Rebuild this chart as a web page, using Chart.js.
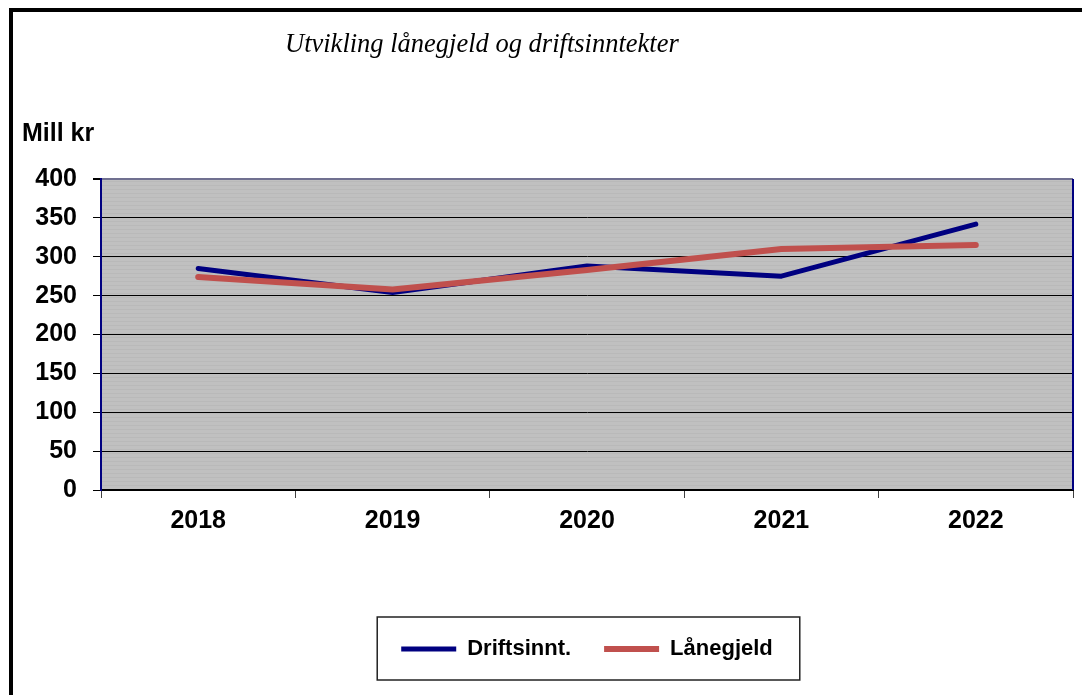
<!DOCTYPE html>
<html>
<head>
<meta charset="utf-8">
<script src="https://cdn.jsdelivr.net/npm/chart.js@4"></script>
<style>
  html, body { margin: 0; padding: 0; background: #fff; overflow: hidden; }
  #wrap { position: relative; width: 1082px; height: 695px; }
  #frame { position: absolute; left: 9px; top: 8px; width: 1200px; height: 800px; border: 4px solid #000; }
  #chart { position: absolute; left: 0; top: 0; }
  #title { position: absolute; left: 285px; top: 28px; font: italic 26.5px "Liberation Serif", "Times New Roman", serif; color: #000; white-space: nowrap; }
  #unit { position: absolute; left: 22px; top: 118px; font: bold 25px "Liberation Sans", Arial, sans-serif; color: #000; white-space: nowrap; }
</style>
</head>
<body>
<div id="wrap">
  <div id="frame"></div>
  <canvas id="chart" width="1082" height="695"></canvas>
  <div id="title">Utvikling lånegjeld og driftsinntekter</div>
  <div id="unit">Mill kr</div>
</div>
<script>
const years = ['2018', '2019', '2020', '2021', '2022'];
const driftsinnt = [285, 254, 288, 275, 342];
const laanegjeld = [274, 258, 283, 310, 315];
const yTicks = [0, 50, 100, 150, 200, 250, 300, 350, 400];

const FONT = '"Liberation Sans", Arial, sans-serif';

// grå bakgrunn med svake striper + kantlinjer rundt plottet
const plotBackground = {
    id: 'plotBackground',
    beforeDraw(chart) {
        const { ctx, chartArea: a } = chart;
        ctx.save();
        ctx.fillStyle = '#c0c0c0';
        ctx.fillRect(a.left, a.top, a.right - a.left, a.bottom - a.top);
        ctx.fillStyle = '#b9b9b9';
        for (let y = a.top + 2; y < a.bottom; y += 4) {
            ctx.fillRect(a.left, y, a.right - a.left, 1);
        }
        ctx.restore();
    },
    afterDraw(chart) {
        const { ctx, chartArea: a } = chart;
        ctx.save();
        ctx.strokeStyle = '#000080';
        ctx.lineWidth = 2;
        ctx.beginPath();
        ctx.moveTo(a.right, a.top);
        ctx.lineTo(a.right, a.bottom);
        ctx.stroke();
        // ramme rundt legenden
        const boxes = chart.legend.legendHitBoxes;
        if (boxes && boxes.length) {
            const left = Math.min(...boxes.map(b => b.left));
            const right = Math.max(...boxes.map(b => b.left + b.width));
            const cy = boxes[0].top + boxes[0].height / 2;
            ctx.strokeStyle = '#222';
            ctx.lineWidth = 1.5;
            ctx.strokeRect(left - 24, cy - 32, (right - left) + 51, 63);
        }
        ctx.restore();
    }
};

new Chart(document.getElementById('chart'), {
    type: 'line',
    data: {
        labels: years,
        datasets: [
            {
                label: 'Driftsinnt.',
                data: driftsinnt,
                borderColor: '#000080',
                backgroundColor: '#000080',
                borderWidth: 5,
                borderCapStyle: 'round',
                borderJoinStyle: 'round',
                pointRadius: 0,
                pointStyle: 'line',
                tension: 0,
                order: 1
            },
            {
                label: 'Lånegjeld',
                data: laanegjeld,
                borderColor: '#c0504d',
                backgroundColor: '#c0504d',
                borderWidth: 6,
                borderCapStyle: 'round',
                borderJoinStyle: 'round',
                pointRadius: 0,
                pointStyle: 'line',
                tension: 0,
                order: 0
            }
        ]
    },
    options: {
        responsive: false,
        animation: false,
        layout: { padding: { top: 179, left: 0, right: 9, bottom: 25 } },
        plugins: {
            title: { display: false },
            tooltip: { enabled: false },
            legend: {
                position: 'bottom',
                fullSize: false,
                labels: {
                    usePointStyle: true,
                    pointStyleWidth: 55,
                    padding: 33,
                    color: '#000',
                    font: { family: FONT, size: 22, weight: 'bold' },
                    sort: (a, b) => a.datasetIndex - b.datasetIndex
                }
            }
        },
        scales: {
            x: {
                offset: true,
                grid: {
                    offset: true,
                    drawOnChartArea: false,
                    drawTicks: true,
                    tickLength: 8,
                    tickColor: '#404040'
                },
                border: { color: '#000', width: 2 },
                ticks: {
                    color: '#000',
                    padding: 8,
                    font: { family: FONT, size: 25, weight: 'bold' }
                },
                afterFit(scale) { scale.height = 115; }
            },
            y: {
                min: 0,
                max: 400,
                afterBuildTicks(scale) { scale.ticks = yTicks.map(v => ({ value: v })); },
                grid: {
                    color: c => (c.tick && c.tick.value === 400) ? '#707090' : '#000',
                    lineWidth: c => (c.tick && c.tick.value === 400) ? 2 : 1,
                    tickColor: '#000',
                    tickLength: 8
                },
                border: { color: '#000080', width: 2 },
                ticks: {
                    color: '#000',
                    padding: 16,
                    font: { family: FONT, size: 25, weight: 'bold' }
                },
                afterFit(scale) { scale.width = 101; }
            }
        }
    },
    plugins: [plotBackground]
});
</script>
</body>
</html>
